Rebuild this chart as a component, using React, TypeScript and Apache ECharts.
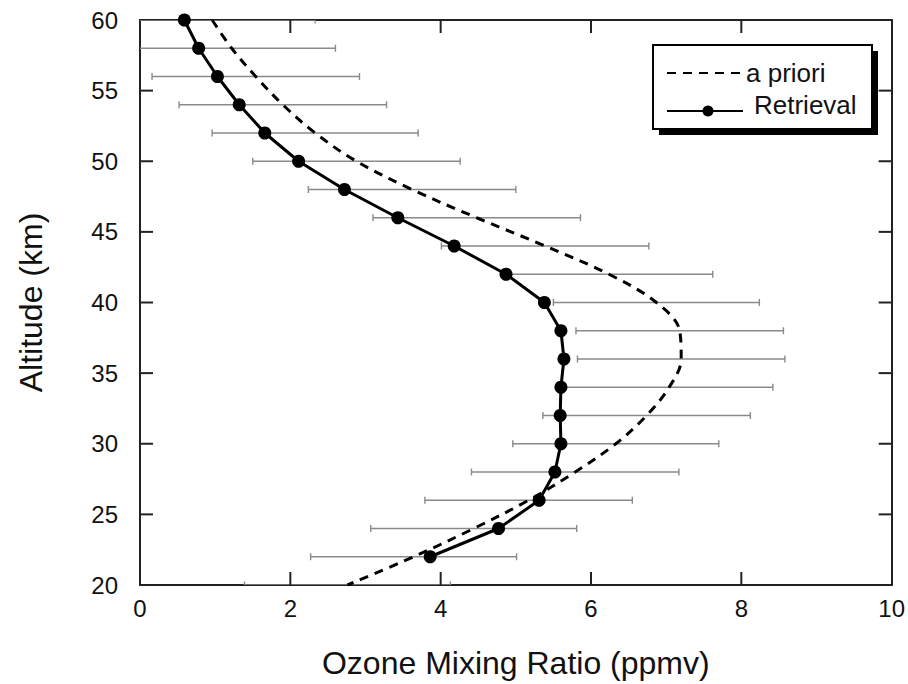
import React, { useEffect, useRef } from "react";
import * as echarts from "echarts";

// Altitude levels (km) of the a priori profile and its uncertainty bars
const aprioriAltitudes = [60, 58, 56, 54, 52, 50, 48, 46, 44, 42, 40, 38, 36, 34, 32, 30, 28, 26, 24, 22, 20];
// A priori ozone mixing ratio (ppmv)
const aprioriValues = [0.96, 1.22, 1.54, 1.9, 2.33, 2.88, 3.62, 4.48, 5.39, 6.24, 6.87, 7.18, 7.2, 7.04, 6.74, 6.33, 5.79, 5.17, 4.44, 3.64, 2.76];
// Half-width of the uncertainty bar around the a priori (ppmv)
const aprioriUncertainty = [1.37, 1.38, 1.38, 1.38, 1.37, 1.38, 1.38, 1.38, 1.38, 1.38, 1.37, 1.38, 1.38, 1.38, 1.38, 1.37, 1.38, 1.38, 1.37, 1.37, 1.37];

// Retrieved profile
const retrievalAltitudes = [60, 58, 56, 54, 52, 50, 48, 46, 44, 42, 40, 38, 36, 34, 32, 30, 28, 26, 24, 22];
const retrievalValues = [0.59, 0.78, 1.03, 1.32, 1.66, 2.11, 2.72, 3.43, 4.18, 4.87, 5.38, 5.6, 5.64, 5.6, 5.59, 5.6, 5.52, 5.31, 4.77, 3.86];

// Axis ranges and tick positions
const X_MIN = 0, X_MAX = 10, X_STEP = 2;
const Y_MIN = 20, Y_MAX = 60, Y_STEP = 5;
const xTickValues = [2, 4, 6, 8];
const yTickValues = [25, 30, 35, 40, 45, 50, 55];

const FONT = "'Liberation Sans', Arial, Helvetica, sans-serif";
const INK = "#111";
const FRAME = "#222";
const TICK_LEN = 13;

function frameAxis() {
  return {
    axisLine: { show: true, onZero: false, lineStyle: { color: FRAME, width: 2 } },
    axisTick: { show: false },
    minorTick: { show: false },
    splitLine: { show: false },
  };
}

export default function App() {
  const ref = useRef<HTMLDivElement>(null);

  useEffect(() => {
    if (!ref.current) return;
    const chart = echarts.init(ref.current, null, { renderer: "svg" });

    const errorBars = aprioriAltitudes.map((alt, i) => [
      aprioriValues[i] - aprioriUncertainty[i],
      aprioriValues[i] + aprioriUncertainty[i],
      alt,
    ]);

    // each tick pairs a point on one edge with the matching point on the opposite edge
    const frameTicks = [
      ...xTickValues.map((v) => ({ lo: [v, Y_MIN], hi: [v, Y_MAX], dir: "x" })),
      ...yTickValues.map((v) => ({ lo: [X_MIN, v], hi: [X_MAX, v], dir: "y" })),
    ];

    chart.setOption({
      animation: false,
      backgroundColor: "#fff",
      grid: { left: 140, right: 15, top: 20, bottom: 98, containLabel: false },
      xAxis: [
        {
          type: "value",
          position: "bottom",
          min: X_MIN,
          max: X_MAX,
          interval: X_STEP,
          ...frameAxis(),
          name: "Ozone Mixing Ratio (ppmv)",
          nameLocation: "middle",
          nameGap: 62,
          nameTextStyle: { fontFamily: FONT, fontSize: 32, color: INK },
          axisLabel: { show: true, fontFamily: FONT, fontSize: 24, color: INK, margin: 11 },
        },
        {
          type: "value",
          position: "top",
          min: X_MIN,
          max: X_MAX,
          interval: X_STEP,
          ...frameAxis(),
          axisLabel: { show: false },
        },
      ],
      yAxis: [
        {
          type: "value",
          position: "left",
          min: Y_MIN,
          max: Y_MAX,
          interval: Y_STEP,
          ...frameAxis(),
          name: "Altitude (km)",
          nameLocation: "middle",
          nameGap: 93,
          nameTextStyle: { fontFamily: FONT, fontSize: 32, color: INK },
          axisLabel: { show: true, fontFamily: FONT, fontSize: 24, color: INK, margin: 22 },
        },
        {
          type: "value",
          position: "right",
          min: Y_MIN,
          max: Y_MAX,
          interval: Y_STEP,
          ...frameAxis(),
          axisLabel: { show: false },
        },
      ],
      series: [
        {
          type: "custom",
          name: "uncertainty",
          clip: true,
          z: 1,
          data: errorBars,
          encode: { x: [0, 1], y: 2 },
          renderItem: (_params: any, api: any) => {
            const lo = api.coord([api.value(0), api.value(2)]);
            const hi = api.coord([api.value(1), api.value(2)]);
            const cap = 3.5;
            const style = { stroke: "#8a8a8a", lineWidth: 1.4 };
            return {
              type: "group",
              children: [
                { type: "line", shape: { x1: lo[0], y1: lo[1], x2: hi[0], y2: hi[1] }, style },
                { type: "line", shape: { x1: lo[0], y1: lo[1] - cap, x2: lo[0], y2: lo[1] + cap }, style },
                { type: "line", shape: { x1: hi[0], y1: hi[1] - cap, x2: hi[0], y2: hi[1] + cap }, style },
              ],
            };
          },
        },
        {
          // inward ticks on all four edges of the frame
          type: "custom",
          name: "frame ticks",
          z: 4,
          data: frameTicks.map((t) => [t.lo[0], t.lo[1], t.hi[0], t.hi[1]]),
          encode: { x: [0, 2], y: [1, 3] },
          renderItem: (params: any, api: any) => {
            const a = api.coord([api.value(0), api.value(1)]);
            const b = api.coord([api.value(2), api.value(3)]);
            const vertical = frameTicks[params.dataIndex].dir === "x";
            const style = { stroke: FRAME, lineWidth: 2 };
            const children = vertical
              ? [
                  { type: "line", shape: { x1: a[0], y1: a[1], x2: a[0], y2: a[1] - TICK_LEN }, style },
                  { type: "line", shape: { x1: b[0], y1: b[1], x2: b[0], y2: b[1] + TICK_LEN }, style },
                ]
              : [
                  { type: "line", shape: { x1: a[0], y1: a[1], x2: a[0] + TICK_LEN, y2: a[1] }, style },
                  { type: "line", shape: { x1: b[0], y1: b[1], x2: b[0] - TICK_LEN, y2: b[1] }, style },
                ];
            return { type: "group", children };
          },
        },
        {
          type: "line",
          name: "a priori",
          z: 2,
          data: aprioriAltitudes.map((alt, i) => [aprioriValues[i], alt]),
          smooth: 0.35,
          showSymbol: false,
          symbol: "none",
          lineStyle: { color: "#000", width: 3, type: [9, 7] },
        },
        {
          type: "line",
          name: "Retrieval",
          z: 3,
          data: retrievalAltitudes.map((alt, i) => [retrievalValues[i], alt]),
          symbol: "circle",
          symbolSize: 13,
          itemStyle: { color: "#000" },
          lineStyle: { color: "#000", width: 3 },
        },
      ],
      graphic: [
        {
          type: "group",
          left: 652,
          top: 44,
          z: 10,
          children: [
            { type: "rect", shape: { x: 6, y: 6, width: 219, height: 84 }, style: { fill: "#000" } },
            { type: "rect", shape: { x: 0, y: 0, width: 219, height: 84 }, style: { fill: "#fff", stroke: "#000", lineWidth: 2 } },
            { type: "line", shape: { x1: 14, y1: 28, x2: 90, y2: 28 }, style: { stroke: "#000", lineWidth: 2, lineDash: [9, 7] } },
            { type: "text", x: 93, y: 28, style: { text: "a priori", font: `26px ${FONT}`, fill: INK, verticalAlign: "middle" } },
            { type: "line", shape: { x1: 14, y1: 66, x2: 90, y2: 66 }, style: { stroke: "#000", lineWidth: 2 } },
            { type: "circle", shape: { cx: 55, cy: 66, r: 5.5 }, style: { fill: "#000" } },
            { type: "text", x: 101, y: 60, style: { text: "Retrieval", font: `26px ${FONT}`, fill: INK, verticalAlign: "middle" } },
          ],
        },
      ],
    });

    return () => chart.dispose();
  }, []);

  return <div ref={ref} style={{ width: 908, height: 684, position: "absolute", left: 0, top: 0 }} />;
}
